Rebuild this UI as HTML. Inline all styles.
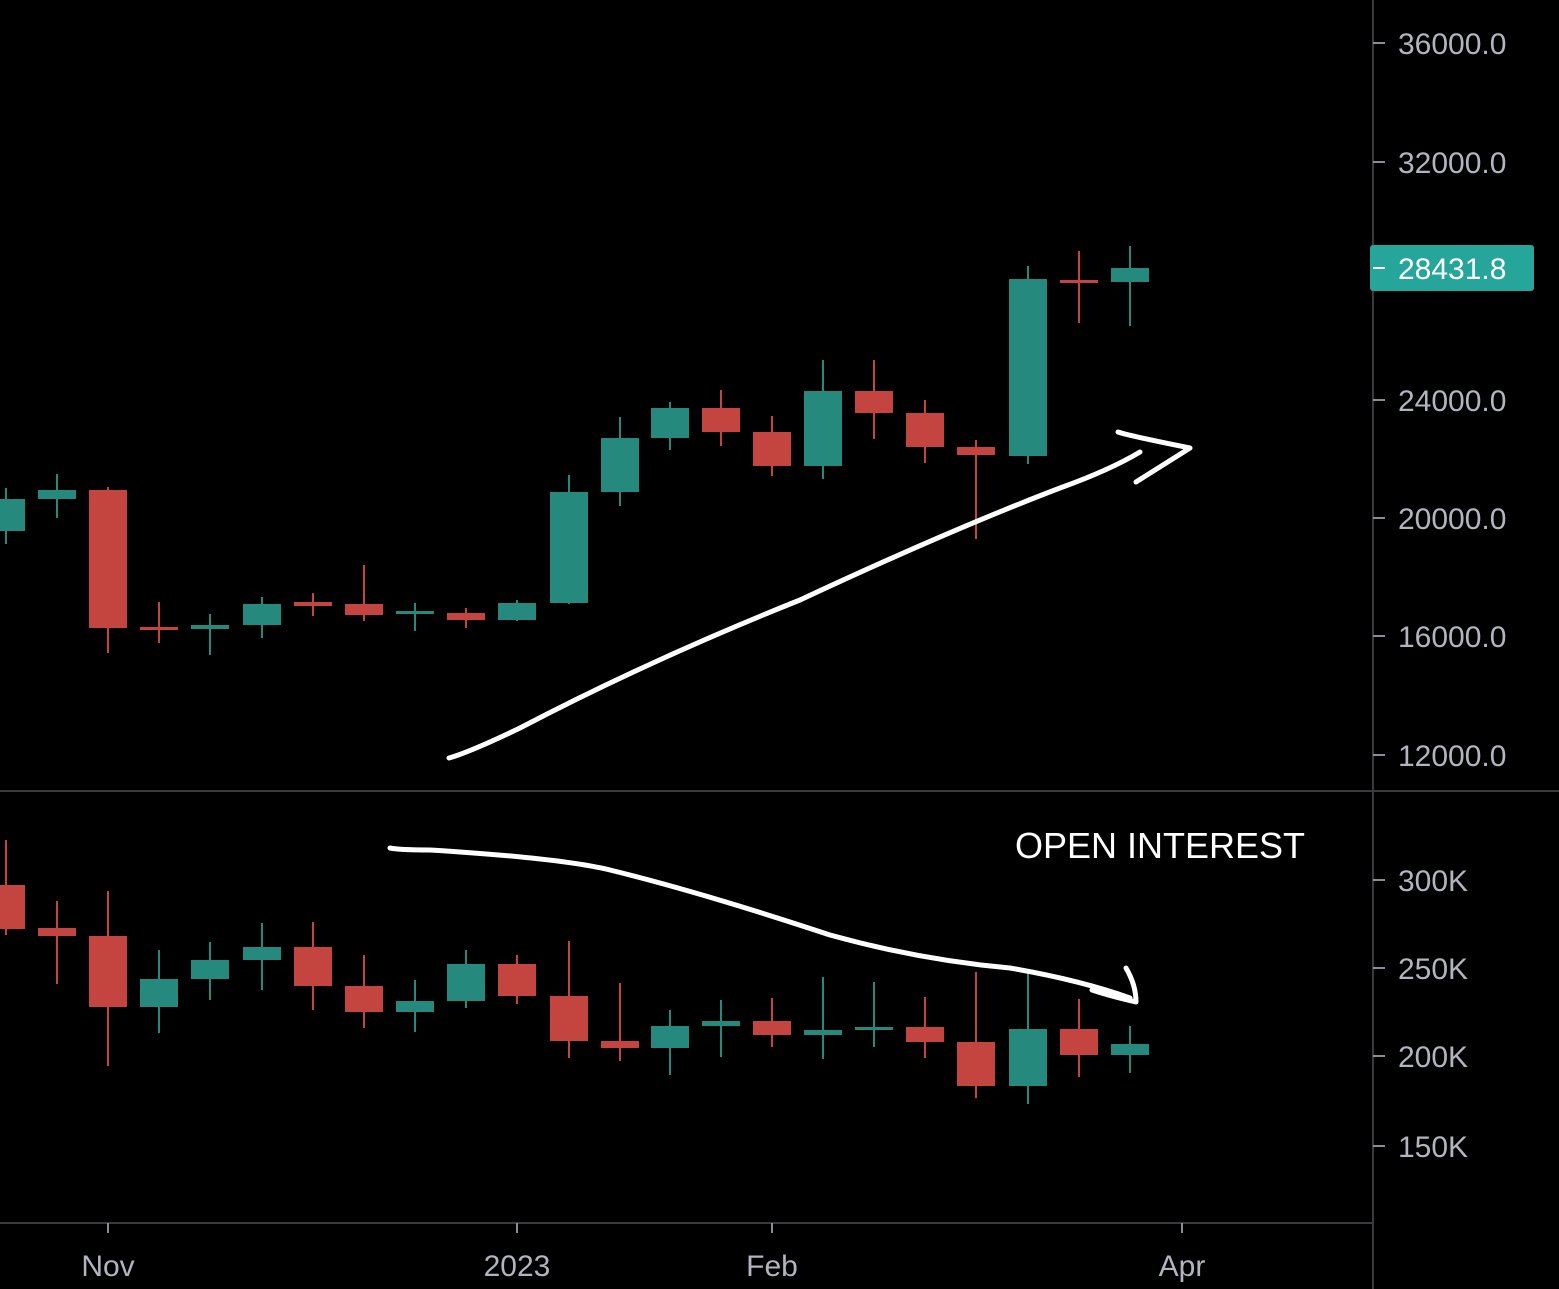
<!DOCTYPE html>
<html><head><meta charset="utf-8"><style>
html,body{margin:0;padding:0;background:#000;}
svg{display:block;}
</style></head><body>
<svg width="1559" height="1289" viewBox="0 0 1559 1289" xmlns="http://www.w3.org/2000/svg" font-family="Liberation Sans, sans-serif">
<rect width="1559" height="1289" fill="#000"/>
<g stroke="#3a3a3e" stroke-width="2">
<line x1="0" y1="791" x2="1559" y2="791"/>
<line x1="0" y1="1223" x2="1373" y2="1223"/>
<line x1="1373" y1="0" x2="1373" y2="1289"/>
</g>
<g stroke="#8a8d95" stroke-width="2">
<line x1="1373" y1="43" x2="1385" y2="43"/><line x1="1373" y1="162" x2="1385" y2="162"/>
<line x1="1373" y1="400" x2="1385" y2="400"/><line x1="1373" y1="518" x2="1385" y2="518"/>
<line x1="1373" y1="636" x2="1385" y2="636"/><line x1="1373" y1="755" x2="1385" y2="755"/>
<line x1="1373" y1="880" x2="1385" y2="880"/><line x1="1373" y1="968" x2="1385" y2="968"/>
<line x1="1373" y1="1056" x2="1385" y2="1056"/><line x1="1373" y1="1146" x2="1385" y2="1146"/>
<line x1="108" y1="1223" x2="108" y2="1233"/><line x1="517" y1="1223" x2="517" y2="1233"/>
<line x1="772" y1="1223" x2="772" y2="1233"/><line x1="1182" y1="1223" x2="1182" y2="1233"/>
</g>
<g fill="#b2b5be" font-size="30">
<text x="1398" y="54">36000.0</text><text x="1398" y="173">32000.0</text>
<text x="1398" y="411">24000.0</text><text x="1398" y="529">20000.0</text>
<text x="1398" y="647">16000.0</text><text x="1398" y="766">12000.0</text>
<text x="1398" y="891">300K</text><text x="1398" y="979">250K</text>
<text x="1398" y="1067">200K</text><text x="1398" y="1157">150K</text>
</g>
<g fill="#b2b5be" font-size="30" text-anchor="middle">
<text x="108" y="1276">Nov</text><text x="517" y="1276">2023</text>
<text x="772" y="1276">Feb</text><text x="1182" y="1276">Apr</text>
</g>
<rect x="1370" y="245" width="164" height="46" rx="3" fill="#26a69a"/>
<line x1="1373" y1="268" x2="1385" y2="268" stroke="#fff" stroke-width="2"/>
<text x="1398" y="279" fill="#fff" font-size="30">28431.8</text>

<g stroke-width="2">
<!-- price -->
<g stroke="#26897e" fill="#26897e">
<line x1="6" x2="6" y1="488" y2="544"/><rect x="-13" y="499" width="38" height="32" stroke="none"/>
<line x1="57" x2="57" y1="474" y2="518"/><rect x="38" y="490" width="38" height="9" stroke="none"/>
<line x1="210" x2="210" y1="614" y2="655"/><rect x="191" y="625" width="38" height="4" stroke="none"/>
<line x1="262" x2="262" y1="597" y2="638"/><rect x="243" y="604" width="38" height="21" stroke="none"/>
<line x1="415" x2="415" y1="603" y2="631"/><rect x="396" y="611" width="38" height="3" stroke="none"/>
<line x1="517" x2="517" y1="600" y2="621"/><rect x="498" y="603" width="38" height="17" stroke="none"/>
<line x1="569" x2="569" y1="475" y2="604"/><rect x="550" y="492" width="38" height="111" stroke="none"/>
<line x1="620" x2="620" y1="417" y2="506"/><rect x="601" y="438" width="38" height="54" stroke="none"/>
<line x1="670" x2="670" y1="402" y2="450"/><rect x="651" y="408" width="38" height="30" stroke="none"/>
<line x1="823" x2="823" y1="360" y2="479"/><rect x="804" y="391" width="38" height="75" stroke="none"/>
<line x1="1028" x2="1028" y1="266" y2="464"/><rect x="1009" y="279" width="38" height="177" stroke="none"/>
<line x1="1130" x2="1130" y1="246" y2="326"/><rect x="1111" y="268" width="38" height="14" stroke="none"/>
</g>
<g stroke="#c4443f" fill="#c4443f">
<line x1="108" x2="108" y1="487" y2="653"/><rect x="89" y="490" width="38" height="138" stroke="none"/>
<line x1="159" x2="159" y1="602" y2="643"/><rect x="140" y="627" width="38" height="3" stroke="none"/>
<line x1="313" x2="313" y1="593" y2="616"/><rect x="294" y="602" width="38" height="4" stroke="none"/>
<line x1="364" x2="364" y1="565" y2="621"/><rect x="345" y="604" width="38" height="11" stroke="none"/>
<line x1="466" x2="466" y1="608" y2="628"/><rect x="447" y="613" width="38" height="7" stroke="none"/>
<line x1="721" x2="721" y1="390" y2="446"/><rect x="702" y="408" width="38" height="24" stroke="none"/>
<line x1="772" x2="772" y1="416" y2="476"/><rect x="753" y="432" width="38" height="34" stroke="none"/>
<line x1="874" x2="874" y1="360" y2="439"/><rect x="855" y="391" width="38" height="22" stroke="none"/>
<line x1="925" x2="925" y1="400" y2="463"/><rect x="906" y="413" width="38" height="34" stroke="none"/>
<line x1="976" x2="976" y1="440" y2="539"/><rect x="957" y="447" width="38" height="8" stroke="none"/>
<line x1="1079" x2="1079" y1="251" y2="323"/><rect x="1060" y="280" width="38" height="3" stroke="none"/>
</g>
<!-- OI -->
<g stroke="#26897e" fill="#26897e">
<line x1="159" x2="159" y1="950" y2="1033"/><rect x="140" y="979" width="38" height="28" stroke="none"/>
<line x1="210" x2="210" y1="942" y2="1000"/><rect x="191" y="960" width="38" height="19" stroke="none"/>
<line x1="262" x2="262" y1="923" y2="990"/><rect x="243" y="947" width="38" height="13" stroke="none"/>
<line x1="415" x2="415" y1="980" y2="1032"/><rect x="396" y="1001" width="38" height="11" stroke="none"/>
<line x1="466" x2="466" y1="950" y2="1008"/><rect x="447" y="964" width="38" height="37" stroke="none"/>
<line x1="670" x2="670" y1="1010" y2="1075"/><rect x="651" y="1026" width="38" height="22" stroke="none"/>
<line x1="721" x2="721" y1="1000" y2="1057"/><rect x="702" y="1021" width="38" height="5" stroke="none"/>
<line x1="823" x2="823" y1="977" y2="1059"/><rect x="804" y="1030" width="38" height="5" stroke="none"/>
<line x1="874" x2="874" y1="982" y2="1047"/><rect x="855" y="1027" width="38" height="3" stroke="none"/>
<line x1="1028" x2="1028" y1="972" y2="1104"/><rect x="1009" y="1029" width="38" height="57" stroke="none"/>
<line x1="1130" x2="1130" y1="1026" y2="1073"/><rect x="1111" y="1044" width="38" height="11" stroke="none"/>
</g>
<g stroke="#c4443f" fill="#c4443f">
<line x1="6" x2="6" y1="840" y2="935"/><rect x="-13" y="885" width="38" height="44" stroke="none"/>
<line x1="57" x2="57" y1="901" y2="984"/><rect x="38" y="928" width="38" height="8" stroke="none"/>
<line x1="108" x2="108" y1="891" y2="1066"/><rect x="89" y="936" width="38" height="71" stroke="none"/>
<line x1="313" x2="313" y1="922" y2="1010"/><rect x="294" y="947" width="38" height="39" stroke="none"/>
<line x1="364" x2="364" y1="955" y2="1028"/><rect x="345" y="986" width="38" height="26" stroke="none"/>
<line x1="517" x2="517" y1="955" y2="1004"/><rect x="498" y="964" width="38" height="32" stroke="none"/>
<line x1="569" x2="569" y1="941" y2="1058"/><rect x="550" y="996" width="38" height="45" stroke="none"/>
<line x1="620" x2="620" y1="983" y2="1061"/><rect x="601" y="1041" width="38" height="7" stroke="none"/>
<line x1="772" x2="772" y1="998" y2="1047"/><rect x="753" y="1021" width="38" height="14" stroke="none"/>
<line x1="925" x2="925" y1="997" y2="1058"/><rect x="906" y="1027" width="38" height="15" stroke="none"/>
<line x1="976" x2="976" y1="972" y2="1098"/><rect x="957" y="1042" width="38" height="44" stroke="none"/>
<line x1="1079" x2="1079" y1="999" y2="1077"/><rect x="1060" y="1029" width="38" height="26" stroke="none"/>
</g>
</g>

<g fill="none" stroke="#fff" stroke-width="5" stroke-linecap="round" stroke-linejoin="round">
<path d="M449 758 Q470 752 520 728 Q650 660 800 600 Q950 530 1060 488 Q1110 470 1140 452"/>
<path d="M1118 432 Q1130 436 1190 448 L1136 482"/>
<path d="M390 848 Q400 850 430 850 Q560 858 610 870 Q700 892 830 935 Q920 960 1010 968 Q1080 980 1130 998"/>
<path d="M1126 968 Q1136 985 1136 1002 Q1110 996 1092 990"/>
</g>
<text x="1015" y="858" fill="#fff" font-size="36">OPEN INTEREST</text>
</svg>
</body></html>
